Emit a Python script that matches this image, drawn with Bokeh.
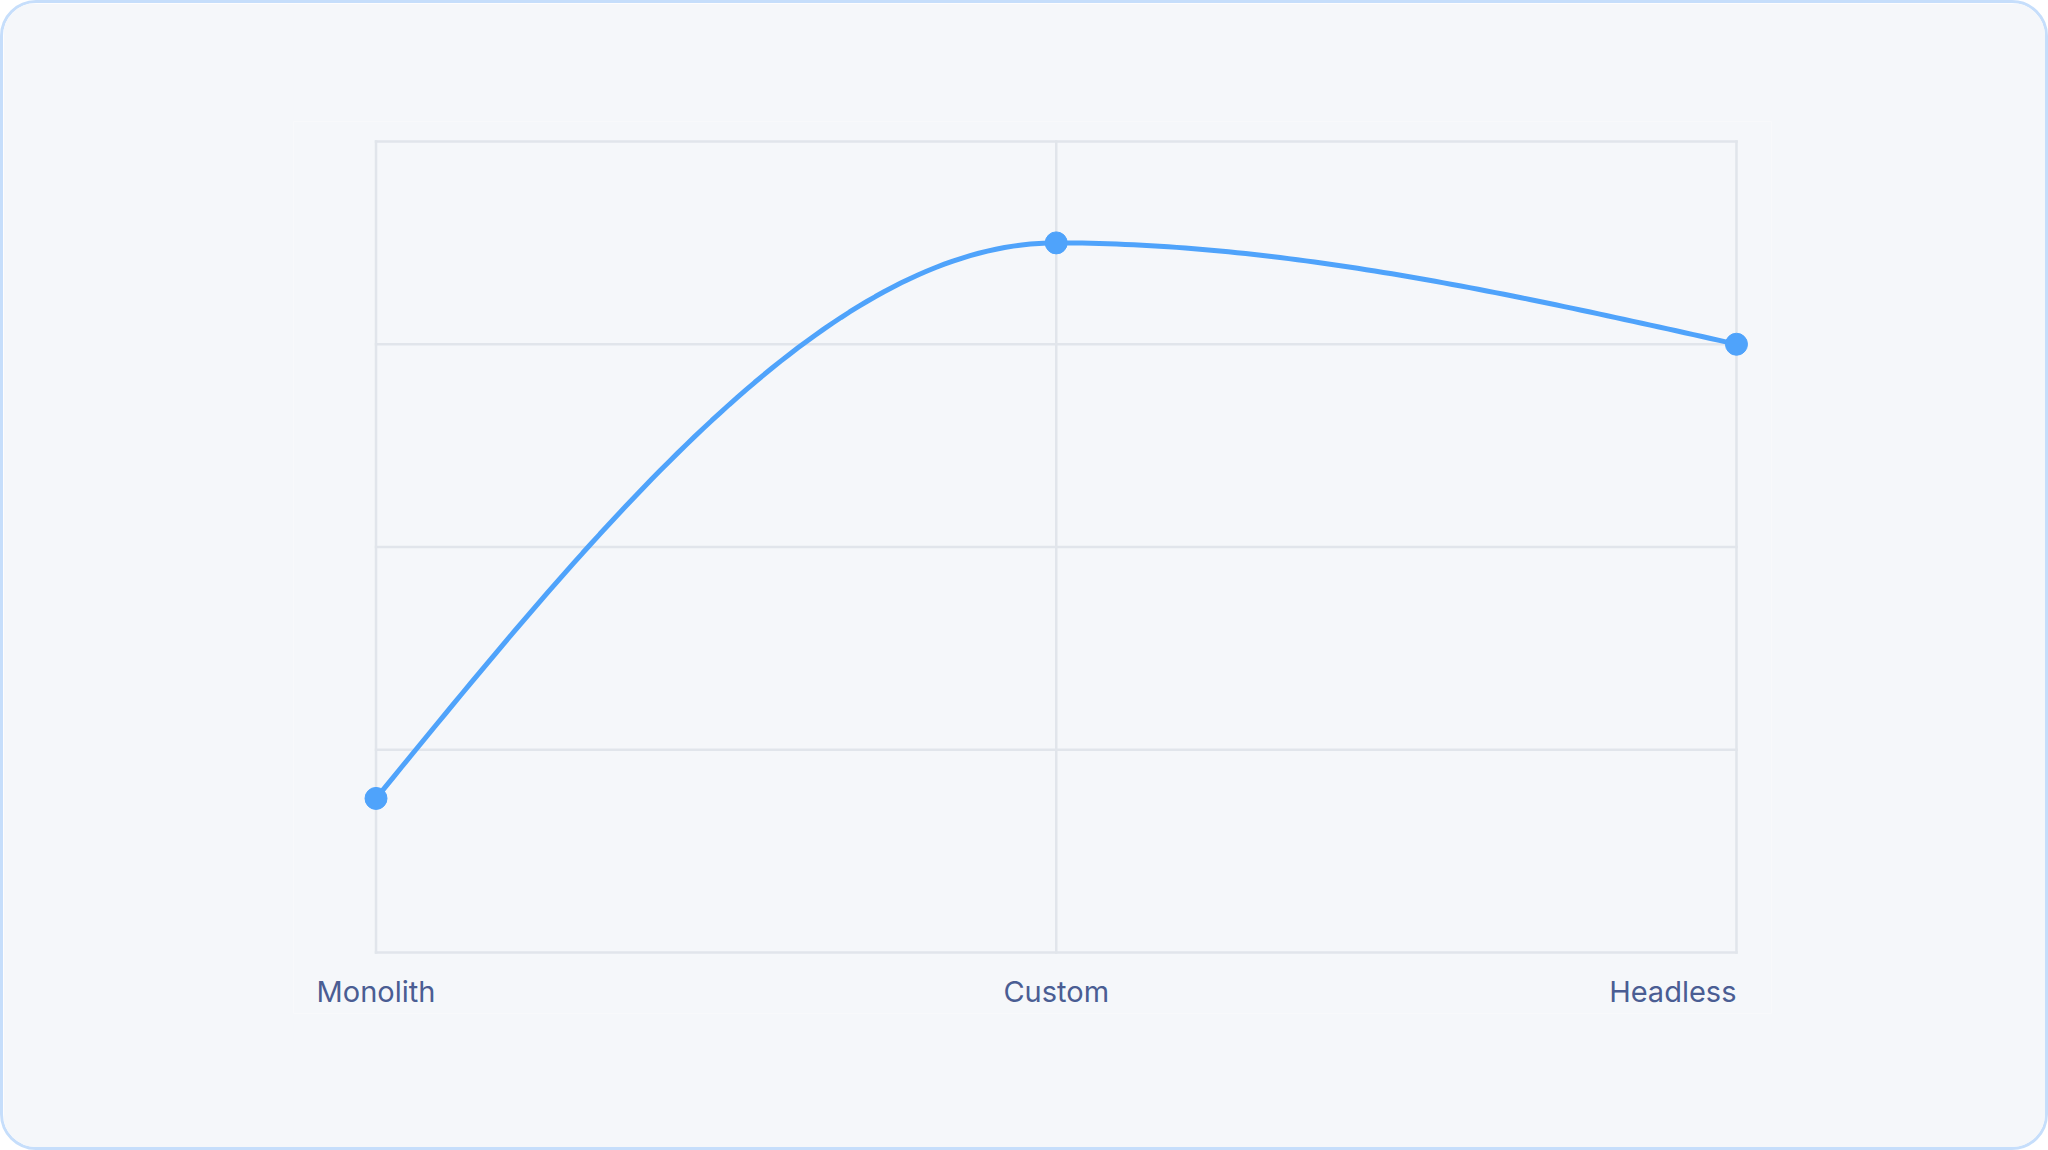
import numpy as np
from bokeh.plotting import figure
from bokeh.models import ColumnDataSource, LabelSet, Range1d
from bokeh.core.properties import value
from bokeh.embed import file_html
from bokeh.resources import INLINE

# ---- data ----
categories = ["Monolith", "Custom", "Headless"]
values = [19, 87.5, 75]
label_align = ["center", "center", "right"]
y_ticks = [0, 25, 50, 75, 100]

xs = np.arange(len(categories), dtype=float)
ys = np.array(values, dtype=float)

# monotone cubic (d3 curveMonotoneX) through the data points
def monotone_curve(x, y, n=80):
    k = len(x)
    h = np.diff(x)
    s = np.diff(y) / h
    t = np.zeros(k)
    for i in range(1, k - 1):
        if s[i - 1] * s[i] <= 0:
            t[i] = 0.0
        else:
            p = (s[i - 1] * h[i] + s[i] * h[i - 1]) / (h[i - 1] + h[i])
            t[i] = (np.sign(s[i - 1]) + np.sign(s[i])) * min(abs(s[i - 1]), abs(s[i]), 0.5 * abs(p))
    t[0] = (3 * s[0] - t[1]) / 2
    t[-1] = (3 * s[-1] - t[-2]) / 2
    cx, cy = [], []
    for i in range(k - 1):
        u = np.linspace(0, 1, n)
        h00 = 2 * u**3 - 3 * u**2 + 1
        h10 = u**3 - 2 * u**2 + u
        h01 = -2 * u**3 + 3 * u**2
        h11 = u**3 - u**2
        seg_y = h00 * y[i] + h10 * h[i] * t[i] + h01 * y[i + 1] + h11 * h[i] * t[i + 1]
        seg_x = x[i] + u * h[i]
        cx.extend(seg_x.tolist())
        cy.extend(seg_y.tolist())
    return cx, cy

cx, cy = monotone_curve(xs, ys)

BG = "#f5f7fa"
GRID = "#e1e5eb"
LINE = "#4fa3fb"
TEXT = "#4a5d93"

p = figure(width=2048, height=1150, output_backend="svg", toolbar_location=None,
           x_range=Range1d(-0.1213, 2.0515), y_range=Range1d(-7.52, 102.466),
           min_border_left=290, min_border_right=280,
           min_border_top=118, min_border_bottom=140)
p.styles = {"border": "3px solid #c6defb", "border-radius": "36px", "overflow": "hidden"}
p.background_fill_color = BG
p.border_fill_color = BG
p.outline_line_color = None

p.xaxis.visible = False
p.yaxis.visible = False
p.xgrid.visible = False
p.ygrid.visible = False

# grid lines limited to the data area
x0, x1 = float(xs[0]), float(xs[-1])
y0, y1 = float(y_ticks[0]), float(y_ticks[-1])
p.segment(x0=[x0] * len(y_ticks), x1=[x1] * len(y_ticks), y0=y_ticks, y1=y_ticks,
          line_color=GRID, line_width=2.5, line_cap="square")
p.segment(x0=xs, x1=xs, y0=[y0] * len(xs), y1=[y1] * len(xs),
          line_color=GRID, line_width=2.5, line_cap="square")

p.line(cx, cy, line_color=LINE, line_width=5)

src = ColumnDataSource(dict(x=xs, y=ys, name=categories, align=label_align,
                            ly=[-4.8] * len(categories)))
p.scatter("x", "y", source=src, size=22, fill_color=LINE, line_color=LINE)

labels = LabelSet(x="x", y="ly", text="name", source=src, text_align="align",
                  text_baseline="middle", text_font=value("Inter"), text_font_size="29px",
                  text_color=TEXT)
p.add_layout(labels)

open("out.html", "w").write(file_html(p, INLINE))
